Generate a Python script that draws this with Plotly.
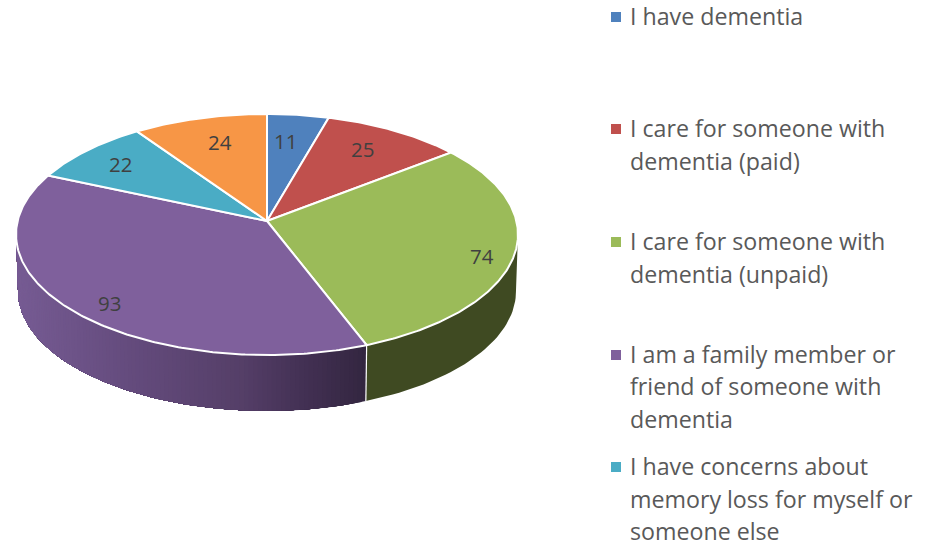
import math
import plotly.graph_objects as go

# ---- data ----
VALUES = [11, 25, 74, 93, 22, 24]
LEGEND_LABELS = [
    ["I have dementia"],
    ["I care for someone with", "dementia (paid)"],
    ["I care for someone with", "dementia (unpaid)"],
    ["I am a family member or", "friend of someone with", "dementia"],
    ["I have concerns about", "memory loss for myself or", "someone else"],
]
TOP_COLORS = ["#4f81bd", "#c0504d", "#9bbb59", "#7f609c", "#4aacc5", "#f79646"]
GREEN_SIDE = "#3f4a22"
PURPLE_SIDE_STOPS = [(17, (0x76, 0x5b, 0x93)), (130, (0x64, 0x4b, 0x7d)),
                     (240, (0x55, 0x3f, 0x68)), (300, (0x44, 0x31, 0x55)),
                     (366, (0x33, 0x26, 0x40))]
LABEL_R = [.73, .77, .88, .87, .80, .745]
LABEL_TURN = [-1.5, -1.8, 3.3, -3.9, -.3, 1.5]
LEGEND_Y = [[16], [128, 161], [241, 274], [354, 386, 419], [466, 499, 531]]

# ---- projection of the pie disc into the page ----
CX, CY, A, B, K = 267, 221, 249.4, 119, 0.112
DEPTH, BASE_SCALE = 57, 0.992
LABEL_SIZE, LEGEND_SIZE = 20.5, 23.2
FONT = "Open Sans"
TEXT_DARK, TEXT_LEGEND = "#404040", "#595959"


def project(theta_deg, r=1.0):
    t = math.radians(theta_deg)
    u, v = r * math.sin(t), r * math.cos(t)
    w = 1 + K * v
    return CX + A * u / w, CY - B * v / w


def project_base(theta_deg):
    x, y = project(theta_deg)
    return CX + (x - CX) * BASE_SCALE, CY + (y - CY) * BASE_SCALE + DEPTH


def purple_color(x):
    stops = PURPLE_SIDE_STOPS
    for (x0, c0), (x1, c1) in zip(stops, stops[1:]):
        if x >= x0 and x <= x1:
            f = (x - x0) / (x1 - x0)
            return "rgb(%d,%d,%d)" % tuple(round(a + (b - a) * f) for a, b in zip(c0, c1))
    return "rgb(%d,%d,%d)" % (stops[0][1] if x < stops[0][0] else stops[-1][1])


total = sum(VALUES)
cum = [0]
for val in VALUES:
    cum.append(cum[-1] + val)
angles = [c / total * 360 for c in cum]

fig = go.Figure()


def side_poly(t0, t1, n):
    ts = [t0 + (t1 - t0) * i / n for i in range(n + 1)]
    top = [project(t) for t in ts]
    base = [project_base(t) for t in reversed(ts)]
    pts = top + base + top[:1]
    return [p[0] for p in pts], [p[1] for p in pts]


def add_poly(xs, ys, color, line_color=None, width=0.0):
    fig.add_trace(go.Scatter(x=xs, y=ys, mode="lines", fill="toself", fillcolor=color,
                             line=dict(color=line_color or color, width=width),
                             hoverinfo="skip", showlegend=False))


# visible silhouette limits of the side wall
RIGHT_LIMIT, LEFT_LIMIT = 96.4, 263.6
split = angles[3]

# green side
xs, ys = side_poly(RIGHT_LIMIT, split, 40)
add_poly(xs, ys, GREEN_SIDE)

# purple side, shaded: each strip paints over the rest of the wall, so no seams show
STRIPS = 110
for i in range(STRIPS):
    t0 = split + (LEFT_LIMIT - split) * i / STRIPS
    t1 = split + (LEFT_LIMIT - split) * (i + 1) / STRIPS
    xs, ys = side_poly(t0, LEFT_LIMIT, max(2, (STRIPS - i)))
    cx_mid = (project(t0)[0] + project(t1)[0]) / 2
    add_poly(xs, ys, purple_color(cx_mid))

# white seam between the two side walls
sx0, sy0 = project(split)
sx1, sy1 = project_base(split)
fig.add_trace(go.Scatter(x=[sx0, sx1], y=[sy0, sy1], mode="lines",
                         line=dict(color="white", width=1.2),
                         hoverinfo="skip", showlegend=False))

# top wedges
for i, col in enumerate(TOP_COLORS):
    n = max(12, int((angles[i + 1] - angles[i]) * 1.5))
    ts = [angles[i] + (angles[i + 1] - angles[i]) * j / n for j in range(n + 1)]
    pts = [(CX, CY)] + [project(t) for t in ts] + [(CX, CY)]
    add_poly([p[0] for p in pts], [p[1] for p in pts], col, "white", 2)

annotations = []
# value labels
for i, val in enumerate(VALUES):
    mid = (angles[i] + angles[i + 1]) / 2 + LABEL_TURN[i]
    x, y = project(mid, LABEL_R[i])
    annotations.append(dict(x=x, y=y, text=str(val), showarrow=False,
                            font=dict(family=FONT, size=LABEL_SIZE, color=TEXT_DARK)))

# legend
for i, lines in enumerate(LEGEND_LABELS):
    fig.add_trace(go.Scatter(x=[616], y=[LEGEND_Y[i][0] + 1], mode="markers",
                             marker=dict(symbol="square", size=10, color=TOP_COLORS[i]),
                             hoverinfo="skip", showlegend=False))
    for line, y in zip(lines, LEGEND_Y[i]):
        annotations.append(dict(x=628, y=y, text=line, showarrow=False, xanchor="left",
                                yanchor="middle",
                                font=dict(family=FONT, size=LEGEND_SIZE, color=TEXT_LEGEND)))

fig.update_layout(
    width=930, height=542, margin=dict(l=0, r=0, t=0, b=0),
    paper_bgcolor="white", plot_bgcolor="white",
    xaxis=dict(range=[0, 930], visible=False, fixedrange=True),
    yaxis=dict(range=[542, 0], visible=False, fixedrange=True),
    annotations=annotations, showlegend=False,
)
fig.write_html("out.html", config={"displayModeBar": False},
               post_script="document.body.style.margin='0';document.documentElement.style.overflow='hidden';")
